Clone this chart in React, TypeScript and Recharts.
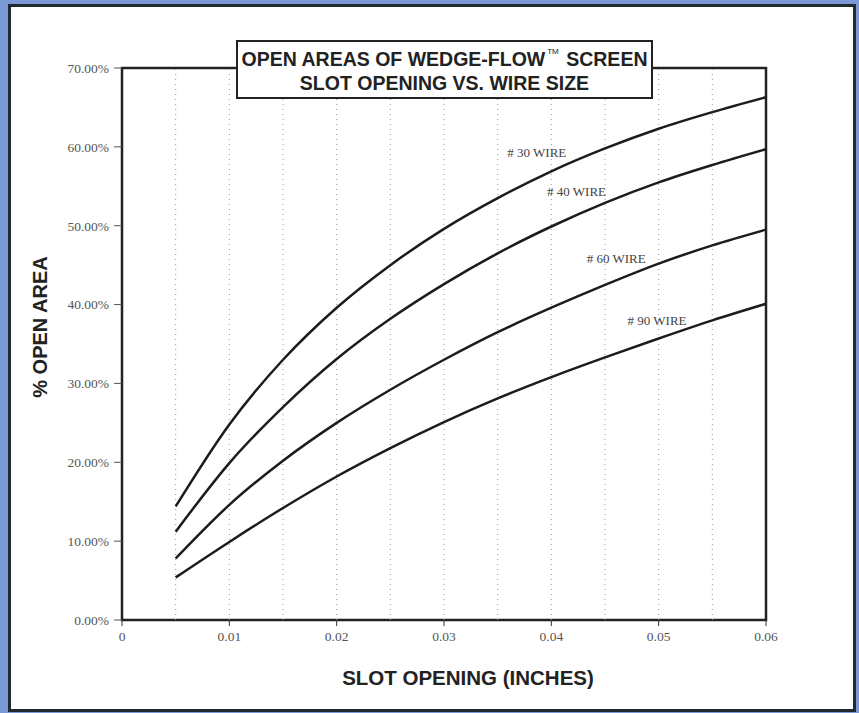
import React from 'react';
import { LineChart, Line, XAxis, YAxis, ReferenceLine, ReferenceArea, ReferenceDot } from 'recharts';

const slotOpening = [0.005, 0.01, 0.015, 0.02, 0.025, 0.03, 0.035, 0.04, 0.045, 0.05, 0.055, 0.06];
const wire30 = [14.4, 24.8, 33.0, 39.6, 45.0, 49.6, 53.5, 56.9, 59.8, 62.3, 64.4, 66.3];
const wire40 = [11.2, 19.9, 27.0, 33.1, 38.2, 42.6, 46.5, 49.9, 52.9, 55.5, 57.7, 59.7];
const wire60 = [7.8, 14.6, 20.2, 25.0, 29.2, 33.0, 36.5, 39.6, 42.5, 45.2, 47.5, 49.5];
const wire90 = [5.4, 9.9, 14.2, 18.2, 21.8, 25.1, 28.1, 30.8, 33.3, 35.7, 38.0, 40.1];

const xTicks = [0, 0.01, 0.02, 0.03, 0.04, 0.05, 0.06];
const yTicks = [0, 10, 20, 30, 40, 50, 60, 70];
const gridX = [0.005, 0.01, 0.015, 0.02, 0.025, 0.03, 0.035, 0.04, 0.045, 0.05, 0.055];

const labelNames = ['# 30 WIRE', '# 40 WIRE', '# 60 WIRE', '# 90 WIRE'];
const labelX = [0.0359, 0.0396, 0.0433, 0.0471];
const labelY = [59.3, 54.3, 45.9, 38.0];

const data = slotOpening.map((x, i) => ({
  x,
  w30: wire30[i],
  w40: wire40[i],
  w60: wire60[i],
  w90: wire90[i],
}));

const serif = '"Liberation Serif", "DejaVu Serif", serif';
const sans = '"Liberation Sans", Arial, sans-serif';
const lineColor = '#1c1c1c';

export default function App() {
  return (
    <div style={{ position: 'absolute', left: 0, top: 0, width: 859, height: 713, background: '#7b98d6', overflow: 'hidden' }}>
      <div
        style={{
          position: 'absolute',
          left: 8,
          top: 4,
          width: 848,
          height: 708,
          boxSizing: 'border-box',
          background: '#ffffff',
          border: '3px solid #1f2a2e',
        }}
      />
      <div style={{ position: 'absolute', left: 0, top: 0 }}>
        <LineChart width={859} height={713} data={data} margin={{ top: 68, right: 93, bottom: 63, left: 62 }}>
          <XAxis
            dataKey="x"
            type="number"
            domain={[0, 0.06]}
            ticks={xTicks}
            tickFormatter={(v: number) => (v === 0 ? '0' : v.toFixed(2))}
            height={30}
            axisLine={false}
            tickLine={{ stroke: '#333', strokeWidth: 1 }}
            tickSize={6}
            tickMargin={5}
            tick={{ fontFamily: serif, fontSize: 13.5, fill: '#555' }}
            interval={0}
          />
          <YAxis
            type="number"
            domain={[0, 70]}
            ticks={yTicks}
            tickFormatter={(v: number) => `${v.toFixed(2)}%`}
            width={60}
            axisLine={false}
            tickLine={{ stroke: '#555', strokeWidth: 1 }}
            tickSize={8}
            tickMargin={5}
            tick={{ fontFamily: serif, fontSize: 13.5, fill: '#555' }}
            interval={0}
          />
          {gridX.map((g) => (
            <ReferenceLine key={g} x={g} stroke="#9a9a9a" strokeWidth={1} strokeDasharray="1 4" />
          ))}
          <ReferenceArea x1={0} x2={0.06} y1={0} y2={70} fill="none" fillOpacity={0} stroke="#222" strokeWidth={2.5} />
          <Line dataKey="w30" type="monotone" stroke={lineColor} strokeWidth={2.5} dot={false} isAnimationActive={false} />
          <Line dataKey="w40" type="monotone" stroke={lineColor} strokeWidth={2.5} dot={false} isAnimationActive={false} />
          <Line dataKey="w60" type="monotone" stroke={lineColor} strokeWidth={2.5} dot={false} isAnimationActive={false} />
          <Line dataKey="w90" type="monotone" stroke={lineColor} strokeWidth={2.5} dot={false} isAnimationActive={false} />
          {labelNames.map((name, i) => (
            <ReferenceDot
              key={name}
              x={labelX[i]}
              y={labelY[i]}
              r={0}
              fill="none"
              stroke="none"
              label={{ value: name, position: 'right', offset: 0, fill: '#444', fontSize: 13, fontFamily: serif }}
            />
          ))}
        </LineChart>
      </div>
      <div
        style={{
          position: 'absolute',
          left: 236,
          top: 40,
          width: 417,
          height: 59,
          boxSizing: 'border-box',
          border: '2px solid #222',
          background: '#fff',
          fontFamily: sans,
          fontWeight: 'bold',
          fontSize: 19.5,
          color: '#222',
          textAlign: 'center',
          lineHeight: '24px',
          paddingTop: 5,
        }}
      >
        <div>
          OPEN AREAS OF WEDGE-FLOW<sup style={{ fontSize: 8, fontWeight: 'normal', verticalAlign: 'top', lineHeight: '10px', marginLeft: 2, marginRight: 2 }}>TM</sup> SCREEN
        </div>
        <div>SLOT OPENING VS. WIRE SIZE</div>
      </div>
      <div
        style={{
          position: 'absolute',
          left: 40,
          top: 327,
          transform: 'translate(-50%, -50%) rotate(-90deg)',
          whiteSpace: 'nowrap',
          fontFamily: sans,
          fontWeight: 'bold',
          fontSize: 20,
          color: '#222',
        }}
      >
        % OPEN AREA
      </div>
      <div
        style={{
          position: 'absolute',
          left: 468,
          top: 678,
          transform: 'translate(-50%, -50%)',
          whiteSpace: 'nowrap',
          fontFamily: sans,
          fontWeight: 'bold',
          fontSize: 20.5,
          color: '#222',
        }}
      >
        SLOT OPENING (INCHES)
      </div>
    </div>
  );
}
